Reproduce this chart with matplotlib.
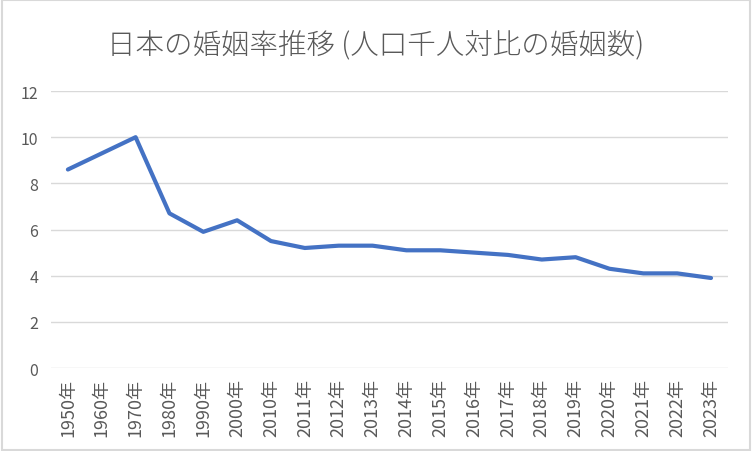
import matplotlib
matplotlib.use('Agg')
import matplotlib.pyplot as plt
from matplotlib.patches import Rectangle

plt.rcParams['font.family'] = ['Noto Sans CJK JP', 'DejaVu Sans']

# data
years = ['1950年', '1960年', '1970年', '1980年', '1990年', '2000年', '2010年',
         '2011年', '2012年', '2013年', '2014年', '2015年', '2016年', '2017年',
         '2018年', '2019年', '2020年', '2021年', '2022年', '2023年']
rates = [8.6, 9.3, 10.0, 6.7, 5.9, 6.4, 5.5, 5.2, 5.3, 5.3, 5.1, 5.1,
         5.0, 4.9, 4.7, 4.8, 4.3, 4.1, 4.1, 3.9]
y_ticks = [0, 2, 4, 6, 8, 10, 12]

text_color = '#595959'
grid_color = '#D9D9D9'

fig = plt.figure(figsize=(7.52, 4.52), dpi=100)
ax = fig.add_axes([0.0678, 0.1836, 0.9002, 0.6128])

x = list(range(len(years)))
ax.plot(x, rates, color='#4472C4', linewidth=3.0, solid_capstyle='round',
        solid_joinstyle='round', zorder=3)

ax.set_xlim(-0.5, len(years) - 0.5)
ax.set_ylim(0, 12)
ax.set_yticks(y_ticks)
ax.set_yticklabels([str(v) for v in y_ticks])
ax.set_xticks(x)
ax.set_xticklabels(years, rotation=90)

ax.grid(axis='y', color=grid_color, linewidth=1.0, zorder=0)
for side in ['top', 'right', 'left', 'bottom']:
    ax.spines[side].set_visible(False)
ax.tick_params(axis='both', length=0, colors=text_color)
ax.tick_params(axis='y', pad=9, labelsize=11.5)
ax.tick_params(axis='x', pad=7, labelsize=13)

fig.text(0.5, 0.9, '日本の婚姻率推移 (人口千人対比の婚姻数)', ha='center', va='center',
         fontsize=20.5, fontweight='light', color=text_color)

# chart border
fig.patches.append(Rectangle((0.002, 0.003), 0.996, 0.994, transform=fig.transFigure,
                             fill=False, edgecolor=grid_color, linewidth=1.5))

fig.savefig('out.png', dpi=100, facecolor='white')
